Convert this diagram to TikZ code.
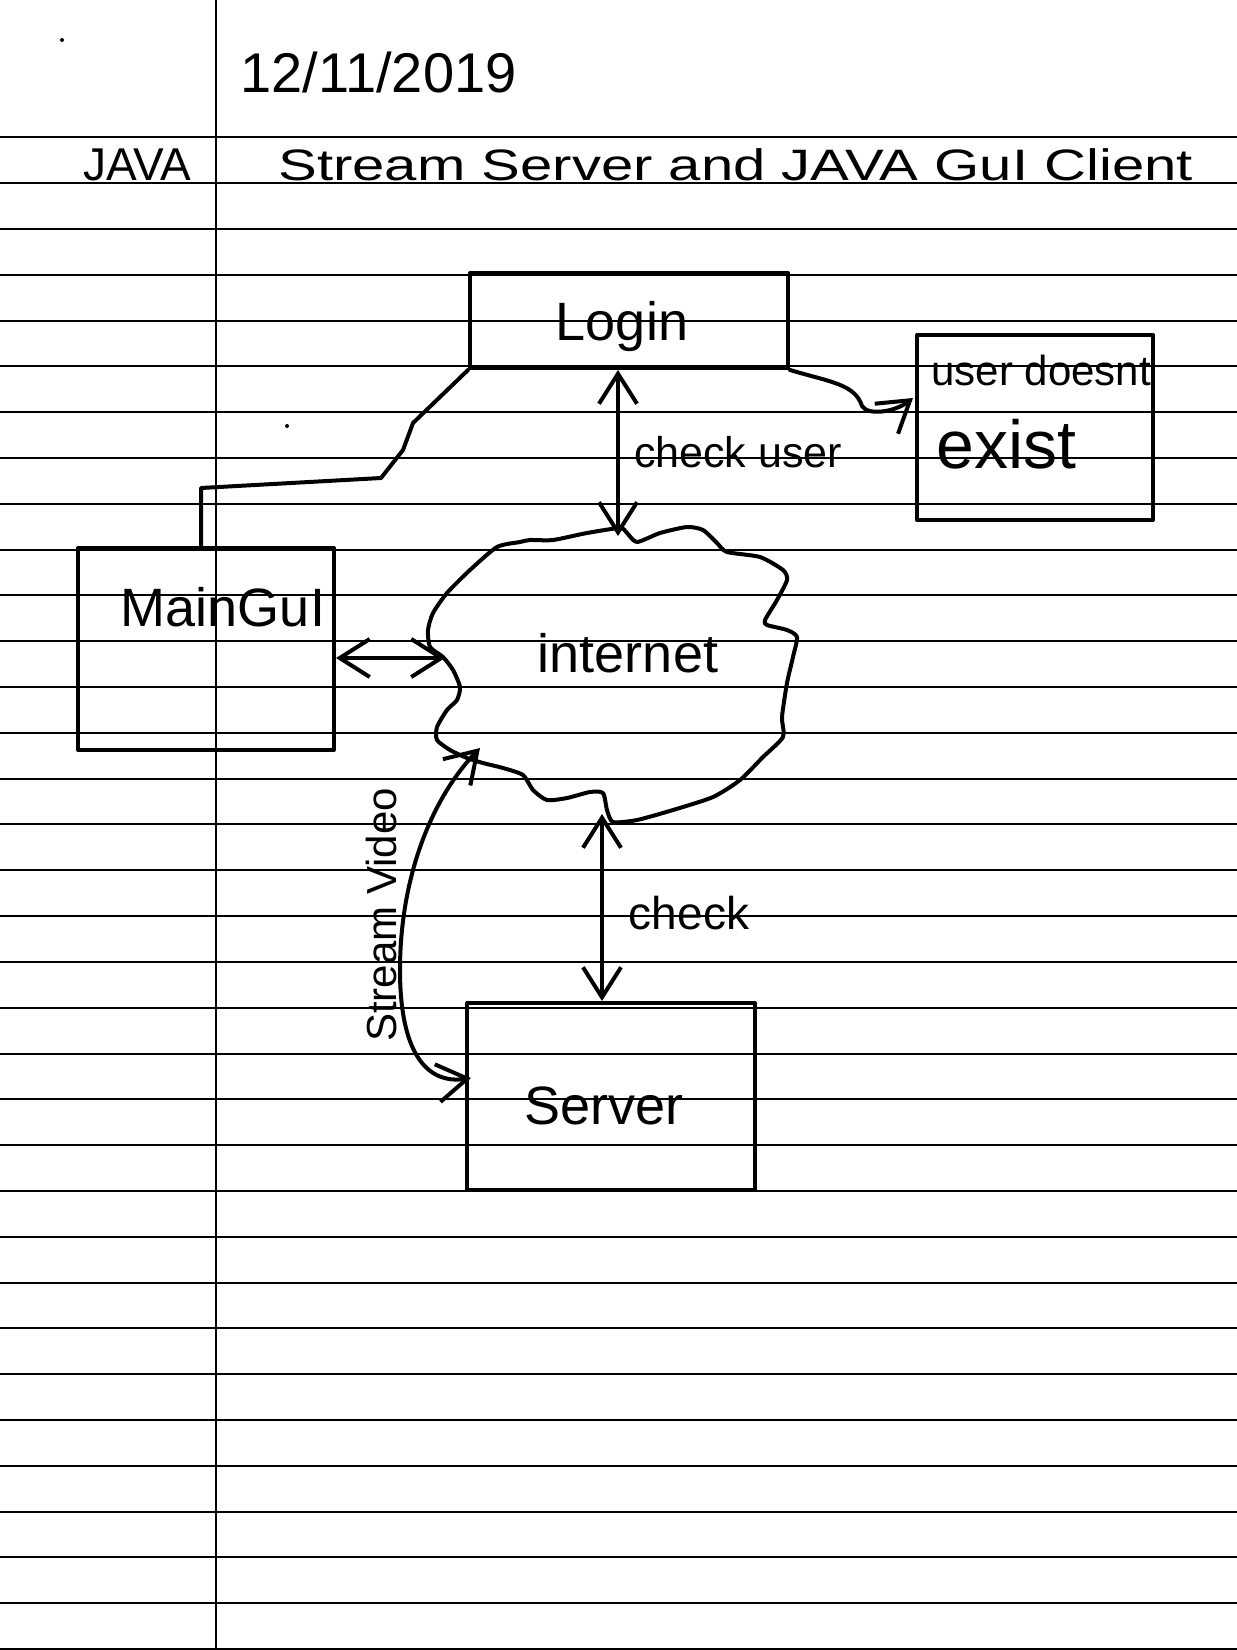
\documentclass[tikz,border=0pt]{standalone}
\usepackage{graphicx}
\usepackage{fontspec}
\setmainfont{Liberation Sans}
\usetikzlibrary{arrows.meta}
\newcommand\hfs[1]{\fontsize{#1}{#1}\selectfont}
\begin{document}
\begin{tikzpicture}[x=0.5pt,y=-0.5pt,
  ink/.style={line width=2pt,line cap=round,line join=round},
  rule/.style={line width=1pt},
  margin/.style={line width=0.6pt},
  boxnode/.style={ink,draw,rectangle,inner sep=0pt},
  txt/.style={inner sep=0pt},
  >={Straight Barb[length=15pt,width=19pt]}]
\useasboundingbox (0,0) rectangle (1237,1650);
\fill[white] (0,0) rectangle (1237,1650);
% ruled paper
\foreach \i in {0,...,33} \draw[rule] (0,{137.3+45.81*\i}) -- (1237,{137.3+45.81*\i});
\draw[margin] (216,0) -- (216,1650);
% stray marks
\fill (62,40) circle[radius=1pt];
\fill (287,426) circle[radius=1pt];
% header
\node[txt,font=\hfs{28},anchor=base west] (date) at (240,92) {12/11/2019};
\node[txt,font=\hfs{23},anchor=base west] (java) at (83,180) {JAVA};
\node[txt,font=\hfs{22},anchor=base west] (title) at (278,180) {\scalebox{1.32}[1]{Stream Server and JAVA GuI Client}};
% boxes
\node[boxnode,minimum width=159pt,minimum height=47.5pt] (login) at (629,320.5) {};
\node[txt,font=\hfs{27}] (logintext) at (622,327) {Login};
\node[boxnode,minimum width=118pt,minimum height=92.5pt] (ue) at (1035,427.5) {};
\node[txt,font=\hfs{21},anchor=base west] (uetext1) at (931,385) {user doesnt};
\node[txt,font=\hfs{34},anchor=base west] (uetext2) at (936,468) {exist};
\node[boxnode,minimum width=128pt,minimum height=101pt] (maingui) at (206,649) {};
\node[txt,font=\hfs{27}] (mgtext) at (223,607) {MainGuI};
\node[boxnode,minimum width=144pt,minimum height=93.5pt] (server) at (611,1096.5) {};
\node[txt,font=\hfs{27}] (servertext) at (604,1106) {Server};
% cloud
\draw[ink] plot[smooth cycle,tension=0.4] coordinates {(520,542) (497,547) (470,570) (447,593) (433,613) (428,630) (430,647) (443,657) (453,670) (460,687) (457,700) (447,710) (437,727) (437,740) (450,750) (467,758) (483,763) (503,768) (523,775) (533,790) (547,800) (567,798) (590,792) (603,793) (607,810) (613,822) (637,820) (673,810) (713,797) (740,780) (763,757) (783,737) (782,717) (787,683) (793,657) (797,637) (787,630) (767,625) (765,620) (777,600) (787,580) (783,570) (760,557) (727,552) (717,543) (703,530) (687,527) (660,533) (637,542) (627,533) (620,528) (587,533) (553,540) (530,540)};
\node[txt,font=\hfs{27}] (inet) at (628,653) {internet};
\coordinate (inetTop) at (618,536);
\coordinate (inetBot) at (602,814);
\coordinate (inetLeft) at (445,658);
\coordinate (inetBL) at (480,748);
\coordinate (ueIn) at (913,398);
\coordinate (svIn) at (471,1078);
\coordinate (mgBend) at (201,488);
% connectors
\draw[ink,<->] (login.south -| inetTop) -- (inetTop);
\node[txt,font=\hfs{21.5}] (lblcu) at (738,452) {check user};
\draw[ink,<->] (inetBot) -- (server.north -| inetBot);
\node[txt,font=\hfs{23}] (lblck) at (689,913) {check};
\draw[ink,<->] (maingui.east |- inetLeft) -- (inetLeft);
\draw[ink,->] (login.south east) .. controls (830,382) and (855,384) .. (862,406) .. controls (868,416) and (895,412) .. (ueIn);
\draw[ink] (login.south west) -- (413,423) -- (403,450) -- (381,478) -- (mgBend) -- (mgBend |- maingui.north);
\draw[ink,<->] (inetBL) .. controls (430,800) and (400,880) .. (400,970) .. controls (400,1050) and (425,1085) .. (svIn);
\node[txt,font=\hfs{21},rotate=90] (lblsv) at (381,915) {Stream Video};
\end{tikzpicture}
\end{document}
